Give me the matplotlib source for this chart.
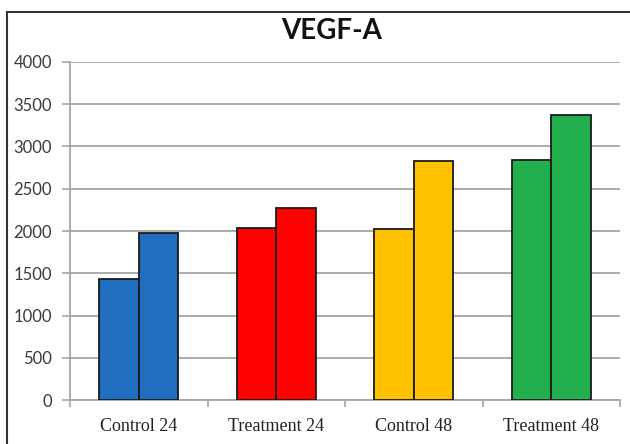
import numpy as np
import matplotlib
matplotlib.use("Agg")
import matplotlib.pyplot as plt
from matplotlib.patches import Rectangle

categories = ["Control 24", "Treatment 24", "Control 48", "Treatment 48"]
first_bar = [1430, 2035, 2025, 2840]
second_bar = [1975, 2270, 2830, 3375]
group_colors = ["#1f6ec0", "#ff0000", "#ffc000", "#22b04e"]
y_ticks = [0, 500, 1000, 1500, 2000, 2500, 3000, 3500, 4000]

fig = plt.figure(figsize=(6.3, 4.44), dpi=100)
ax = fig.add_axes([70 / 630, 1 - 400 / 444, 550 / 630, 338 / 444])

x = np.arange(len(categories))
w = 0.287
ax.bar(x - w / 2, first_bar, w, color=group_colors, edgecolor="#1a1a1a", linewidth=1.3, zorder=3)
ax.bar(x + w / 2, second_bar, w, color=group_colors, edgecolor="#1a1a1a", linewidth=1.3, zorder=3)

ax.set_xlim(-0.5, 3.5)
ax.set_ylim(0, 4000)
ax.set_yticks(y_ticks)
ax.set_yticklabels([str(v) for v in y_ticks], fontsize=12, family="Lato", color="#3a3a3a")
ax.yaxis.grid(True, color="#a6a6a6", linewidth=1.3, zorder=0)
ax.tick_params(axis="y", length=6, width=1.2, color="#a6a6a6", pad=7)

# category labels between boundary ticks
ax.set_xticks(np.arange(-0.5, 4.0, 1.0))
ax.set_xticklabels([])
ax.set_xticks(x, minor=True)
ax.set_xticklabels(categories, minor=True, fontsize=13, family="Liberation Serif", color="#222222")
ax.tick_params(axis="x", which="major", length=5, width=1.2, color="#a6a6a6", direction="out")
ax.tick_params(axis="x", which="minor", length=0, pad=13)

for s in ["top", "right"]:
    ax.spines[s].set_visible(False)
for s in ["left", "bottom"]:
    ax.spines[s].set_color("#a6a6a6")
    ax.spines[s].set_linewidth(1.3)

fig.text(332 / 630, 1 - 31 / 444, "VEGF-A", ha="center", va="center",
         fontsize=20, fontweight="bold", family="Lato", color="#111111")

# outer frame of the original picture (left and top edges visible)
fig.patches.append(Rectangle((7 / 630, -0.1), 1.2, 1 - 12 / 444 + 0.1, transform=fig.transFigure,
                             fill=False, edgecolor="#333333", linewidth=1.5))

fig.savefig("out.png", dpi=100)
